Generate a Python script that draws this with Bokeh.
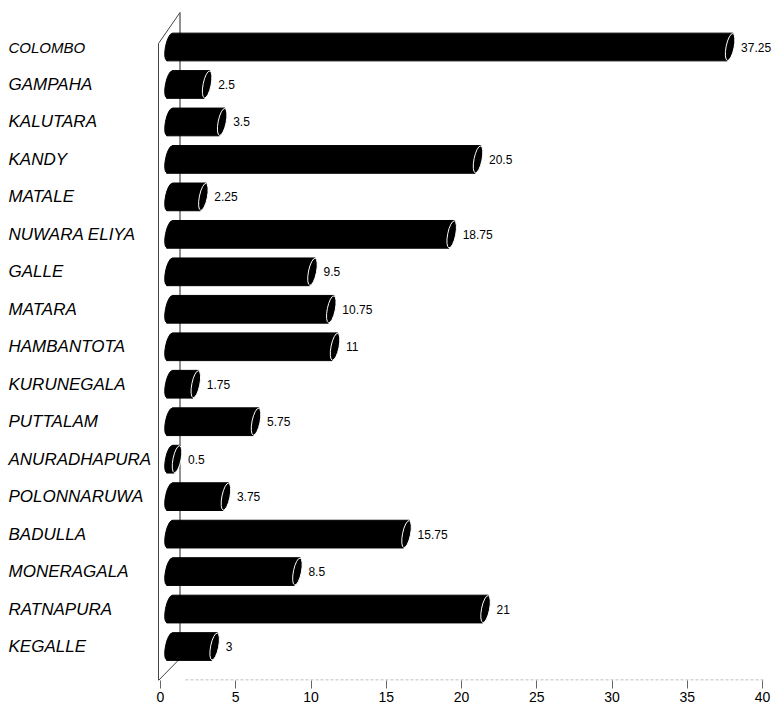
import math
from bokeh.plotting import figure
from bokeh.models import Range1d, FixedTicker, ColumnDataSource
from bokeh.core.properties import value
from bokeh.embed import file_html
from bokeh.resources import INLINE

# ---------------- data ----------------
districts = ["COLOMBO", "GAMPAHA", "KALUTARA", "KANDY", "MATALE", "NUWARA  ELIYA",
             "GALLE", "MATARA", "HAMBANTOTA", "KURUNEGALA", "PUTTALAM", "ANURADHAPURA",
             "POLONNARUWA", "BADULLA", "MONERAGALA", "RATNAPURA", "KEGALLE"]
values = [37.25, 2.5, 3.5, 20.5, 2.25, 18.75, 9.5, 10.75, 11, 1.75, 5.75, 0.5,
          3.75, 15.75, 8.5, 21, 3]
value_labels = ["37.25", "2.5", "3.5", "20.5", "2.25", "18.75", "9.5", "10.75", "11",
                "1.75", "5.75", "0.5", "3.75", "15.75", "8.5", "21", "3"]
x_ticks = [0, 5, 10, 15, 20, 25, 30, 35, 40]

# ---------------- layout constants (pixels) ----------------
W, FH = 772, 680
AX0_PX, AX40_PX = 160.0, 762.0
PPU = (AX40_PX - AX0_PX) / 40.0           # pixels per unit on x
X_START = -AX0_PX / PPU
X_END = (W - AX0_PX) / PPU
ROW0_PX, ROW_PX = 46.5, 37.47
Y_TOP = -ROW0_PX / ROW_PX
Y_BOT = (FH - ROW0_PX) / ROW_PX


def dx(px):
    return px / PPU


def xp(px):
    return (px - AX0_PX) / PPU


def yp(px):
    return (px - ROW0_PX) / ROW_PX


p = figure(frame_width=W, frame_height=FH, output_backend="svg", toolbar_location=None,
           x_range=Range1d(X_START, X_END), y_range=Range1d(Y_BOT, Y_TOP),
           y_axis_location=None, min_border_left=0, min_border_right=0,
           min_border_top=0, min_border_bottom=0, background_fill_color="white",
           border_fill_color="white")
p.outline_line_color = None
p.xgrid.visible = False
p.ygrid.visible = False

ax = p.xaxis[0]
ax.ticker = FixedTicker(ticks=x_ticks)
ax.axis_line_color = None
ax.major_tick_out = 8
ax.major_tick_in = 0
ax.major_tick_line_color = "#666666"
ax.minor_tick_line_color = None
ax.major_label_standoff = 3
ax.major_label_text_font = "Liberation Sans"
ax.major_label_text_font_size = "14px"
ax.major_label_text_color = "#000000"

# ---------------- walls (3D frame) ----------------
front_x = xp(158)
back_x = xp(179.5)
wall_col = "#444444"
p.line([back_x, back_x], [yp(12), yp(658)], line_color="#222222", line_width=1)
p.line([front_x, front_x], [yp(43), yp(680)], line_color=wall_col, line_width=1)
p.line([front_x, back_x], [yp(43), yp(12)], line_color=wall_col, line_width=1)
p.line([front_x, back_x], [yp(680), yp(658)], line_color=wall_col, line_width=1)
# faint floor edge
p.line([xp(185), xp(765)], [yp(679.5), yp(679.5)], line_color="#aaaaaa",
       line_width=1, line_dash="3 2")

# ---------------- bars ----------------
BAR0 = dx(169 - AX0_PX)      # depth offset of bar zero
HALF = 0.37                  # half bar thickness (row units)
SLANT = dx(2.8)
TILT = -0.2
xs, ys = [], []
left_x, right_x, rows = [], [], []
for i, v in enumerate(values):
    xl = BAR0
    xr = BAR0 + v
    yt, yb = i - HALF, i + HALF
    xs.append([xl - SLANT, xr - SLANT, xr + SLANT, xl + SLANT])
    ys.append([yb, yb, yt, yt])
    left_x.append(xl)
    right_x.append(xr)
    rows.append(i)

p.patches(xs, ys, fill_color="black", line_color="black", line_width=1)
p.ellipse(x=left_x, y=rows, width=8, height=27.5, angle=TILT,
          width_units="screen", height_units="screen",
          fill_color="black", line_color="black")
p.ellipse(x=right_x, y=rows, width=8, height=27.5, angle=TILT,
          width_units="screen", height_units="screen",
          fill_color="black", line_color="white", line_width=1)

# value labels
p.text(x=[r + dx(11) for r in right_x], y=rows, text=value_labels,
       text_font=value("Liberation Sans"), text_font_size="12px",
       text_baseline="middle", text_align="left", text_color="#000000")

# category labels
fonts = ["'Liberation Sans Narrow', 'Liberation Sans', sans-serif"] + ["Liberation Sans"] * (len(districts) - 1)
sizes = ["15px"] + ["17px"] * (len(districts) - 1)
src = ColumnDataSource(dict(x=[xp(8)] * len(districts), y=rows, t=districts,
                            f=fonts, s=sizes))
p.text(x="x", y="y", text="t", source=src, text_font="f", text_font_size="s",
       text_font_style="italic", text_baseline="middle", text_align="left",
       text_color="#000000")

open("out.html", "w").write(file_html(p, INLINE))
